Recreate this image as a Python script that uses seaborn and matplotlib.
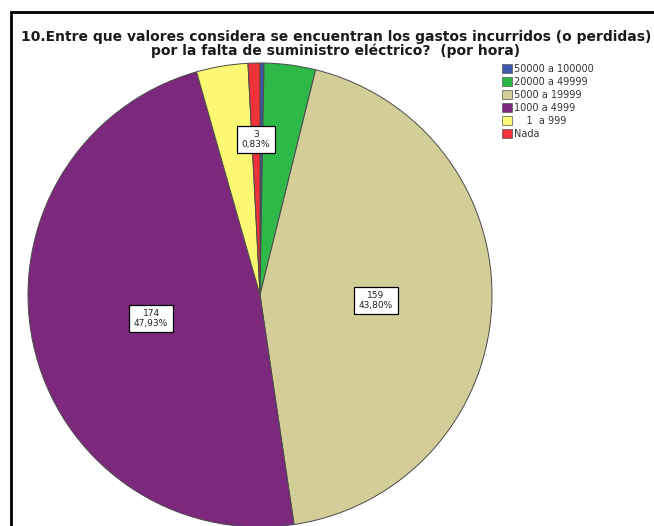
import numpy as np
import matplotlib
matplotlib.use("Agg")
import matplotlib.pyplot as plt
import matplotlib.patches as mpatches
import seaborn as sns

sns.set_style("white")
plt.rcParams["font.family"] = ["DejaVu Sans"]

# Survey answer categories, counts and colours (legend order)
categories = ["50000 a 100000", "20000 a 49999", "5000 a 19999", "1000 a 4999", "1 a 999", "Nada"]
legend_labels = ["50000 a 100000", "20000 a 49999", "5000 a 19999", "1000 a 4999", "    1  a 999", "Nada"]
counts = [1, 13, 159, 174, 13, 3]
colors = ["#3E58AC", "#2EB848", "#D3CE97", "#7C287D", "#FBF873", "#EF3338"]
# slices whose count / percentage is printed, with label distance from centre
labelled = {"5000 a 19999": 0.50, "1000 a 4999": 0.48, "Nada": 0.67}

title = ("10.Entre que valores considera se encuentran los gastos incurridos (o perdidas)\n"
         "por la falta de suministro eléctrico?  (por hora)")

W, H = 654, 526
fig = plt.figure(figsize=(W / 100, H / 100), dpi=100)
fig.patch.set_facecolor("white")

# outer frame (runs off the right and bottom edges)
frame = mpatches.Rectangle((11 / W, -0.05), 1.2, 1 - 12 / H + 0.05,
                           transform=fig.transFigure, fill=False,
                           edgecolor="black", linewidth=2)
fig.patches.append(frame)

fig.text(336 / W, 1 - 44 / H, title, ha="center", va="center",
         fontsize=10, fontweight="bold", linespacing=0.88, color="#1a1a1a")

# pie axes
cx, cy, R = 260, 295, 232
ax = fig.add_axes([(cx - R) / W, (H - cy - R) / H, 2 * R / W, 2 * R / H])

wedges, _ = ax.pie(counts, colors=colors, startangle=90, counterclock=False,
                   radius=1, wedgeprops=dict(edgecolor="#4a4a4a", linewidth=0.7))
ax.set_xlim(-1, 1)
ax.set_ylim(-1, 1)
ax.set_aspect("auto")
ax.axis("off")

total = sum(counts)
start = 90.0
for cat, n in zip(categories, counts):
    sweep = 360.0 * n / total
    mid = np.deg2rad(start - sweep / 2)
    start -= sweep
    if cat in labelled:
        d = labelled[cat]
        pct = f"{100 * n / total:.2f}%".replace(".", ",")
        ax.text(d * np.cos(mid), d * np.sin(mid), f"{n}\n{pct}",
                ha="center", va="center", fontsize=6.5, linespacing=1.05,
                color="#222222",
                bbox=dict(boxstyle="square,pad=0.5", facecolor="white",
                          edgecolor="black", linewidth=0.9))

handles = [mpatches.Patch(facecolor=c, edgecolor="#555555", linewidth=0.5) for c in colors]
leg = fig.legend(handles, legend_labels, loc="upper left",
                 bbox_to_anchor=(502 / W, 1 - 64 / H), frameon=False,
                 fontsize=7, handlelength=1.0, handleheight=1.0,
                 handletextpad=0.25, labelspacing=0.3, borderpad=0, borderaxespad=0)
for t in leg.get_texts():
    t.set_color("#333333")

fig.savefig("out.png", dpi=100, facecolor="white")
